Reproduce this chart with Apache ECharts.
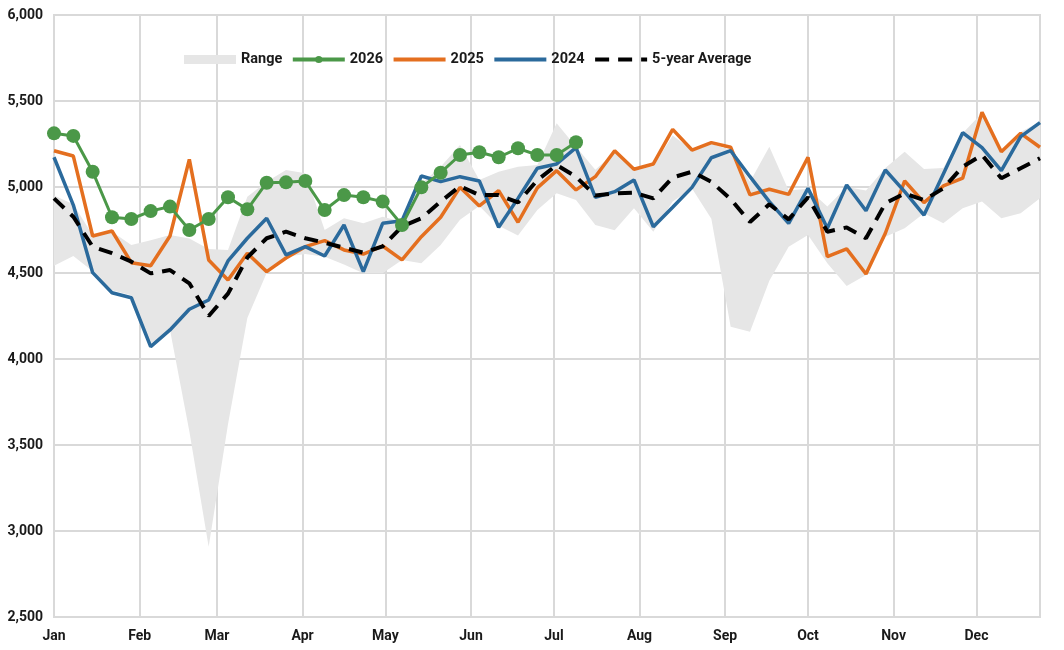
<!DOCTYPE html>
<html>
<head>
<meta charset="utf-8">
<script src="https://cdn.jsdelivr.net/npm/echarts@6/dist/echarts.min.js"></script>
<style>
  html, body { margin: 0; padding: 0; background: #fff; }
  #chart { width: 1064px; height: 650px; }
</style>
</head>
<body>
<div id="chart"></div>
<script>
// month labels and the day of year where each one starts
const months = ['Jan', 'Feb', 'Mar', 'Apr', 'May', 'Jun', 'Jul', 'Aug', 'Sep', 'Oct', 'Nov', 'Dec']
const monthDays = [0, 31, 59, 90, 120, 151, 181, 212, 243, 273, 304, 334]

// weekly values (52 weeks)
const rangeLow = [4542, 4599, 4510, 4400, 4370, 4090, 4169, 3580, 2909, 3620, 4238, 4500, 4595, 4610, 4595, 4550,
  4498, 4498, 4576, 4556, 4663, 4810, 4890, 4775, 4718, 4866, 4963, 4924, 4779, 4748, 4876, 4740, 4915, 4992,
  4815, 4188, 4159, 4455, 4653, 4721, 4556, 4425, 4488, 4711, 4760, 4847, 4789, 4876, 4915, 4818, 4847, 4934]
const rangeHigh = [4950, 4900, 4720, 4740, 4663, 4690, 4721, 4700, 4640, 4634, 4944, 5030, 5099, 5080, 4750, 4818,
  4789, 4827, 4798, 5020, 5118, 5244, 5041, 5089, 5118, 5128, 5370, 5234, 5100, 5200, 5100, 5120, 5300, 5215,
  5250, 5215, 5030, 5234, 4980, 4990, 4886, 5000, 4980, 5110, 5205, 5105, 5110, 5312, 5430, 5205, 5320, 5380]
const y2026 = [5312, 5297, 5089, 4824, 4814, 4860, 4886, 4750, 4814, 4940, 4870, 5025, 5027, 5035, 4866, 4953,
  4940, 4915, 4779, 4998, 5083, 5186, 5202, 5173, 5225, 5186, 5186, 5260]
const y2025 = [5211, 5180, 4715, 4744, 4560, 4542, 4715, 5161, 4576, 4459, 4615, 4508, 4587, 4653, 4688, 4634,
  4610, 4657, 4576, 4711, 4824, 4998, 4890, 4979, 4795, 4995, 5095, 4983, 5060, 5211, 5103, 5134, 5335, 5215,
  5258, 5231, 4954, 4987, 4957, 5173, 4595, 4640, 4494, 4731, 5035, 4909, 5006, 5051, 5434, 5205, 5312, 5231]
const y2024 = [5173, 4895, 4502, 4385, 4356, 4072, 4169, 4289, 4343, 4570, 4702, 4818, 4605, 4653, 4599, 4779,
  4508, 4789, 4804, 5064, 5031, 5060, 5035, 4766, 4934, 5109, 5134, 5229, 4940, 4973, 5041, 4769, 4882, 4998,
  5170, 5211, 5060, 4915, 4789, 4992, 4760, 5012, 4862, 5099, 4973, 4837, 5076, 5316, 5229, 5095, 5293, 5374]
const avg5 = [4934, 4827, 4653, 4615, 4566, 4498, 4517, 4440, 4250, 4380, 4590, 4702, 4740, 4702, 4676, 4647,
  4618, 4655, 4770, 4818, 4915, 5005, 4953, 4953, 4910, 5040, 5128, 5060, 4950, 4963, 4967, 4934, 5055, 5089,
  5030, 4930, 4796, 4900, 4812, 4940, 4740, 4765, 4702, 4905, 4963, 4924, 4992, 5118, 5186, 5051, 5109, 5167]

// x is the day of year of each week
const weekly = (arr) => arr.map((v, i) => [i * 7, v])

const chart = echarts.init(document.querySelector('#chart'))
const font = { fontFamily: 'Roboto', fontWeight: 'bold', fontSize: 14, color: '#1a1a1a' }
const noDot = { opacity: 0 }

const option = {
  animation: false,
  grid: {
    left: 54, right: 24, top: 15, bottom: 33,
    show: true, borderColor: '#d9d9d9', borderWidth: 2
  },
  legend: {
    top: 47,
    left: 179,
    itemWidth: 52,
    itemHeight: 9,
    itemGap: 8.5,
    lineStyle: { width: 4 },
    textStyle: { ...font, fontSize: 14.5 },
    data: [
      { name: 'Range', icon: 'rect', itemStyle: { color: '#e6e6e6' } },
      '2026',
      { name: '2025', itemStyle: noDot },
      { name: '2024', itemStyle: noDot },
      { name: '5-year Average', itemStyle: noDot }
    ]
  },
  xAxis: {
    type: 'value',
    min: 0,
    max: 357,
    axisLine: { lineStyle: { color: '#d9d9d9', width: 2 } },
    axisTick: { show: false, customValues: monthDays },
    axisLabel: {
      ...font,
      margin: 12,
      customValues: monthDays,
      formatter: (v) => months[monthDays.indexOf(v)]
    },
    splitLine: { show: true, lineStyle: { color: '#d9d9d9', width: 2 } }
  },
  yAxis: {
    type: 'value',
    min: 2500,
    max: 6000,
    interval: 500,
    axisLine: { show: false },
    axisTick: { show: false },
    axisLabel: {
      ...font,
      margin: 11,
      formatter: (v) => v.toLocaleString('en-US')
    },
    splitLine: { lineStyle: { color: '#d9d9d9', width: 2 } }
  },
  series: [
    {
      // min/max band, drawn as one polygon through the axis scales
      name: 'Range',
      type: 'custom',
      color: '#e6e6e6',
      silent: true,
      data: rangeLow.map((v, i) => [i * 7, v, rangeHigh[i]]),
      encode: { x: 0, y: [1, 2] },
      renderItem: (params, api) => {
        if (params.dataIndex !== 0) return null
        const top = rangeHigh.map((v, i) => api.coord([i * 7, v]))
        const bottom = rangeLow.map((v, i) => api.coord([i * 7, v])).reverse()
        return {
          type: 'polygon',
          shape: { points: top.concat(bottom) },
          style: { fill: '#e6e6e6' }
        }
      }
    },
    {
      name: '2025',
      type: 'line',
      data: weekly(y2025),
      symbol: 'none',
      color: '#e46f1f',
      lineStyle: { width: 3.5 }
    },
    {
      name: '2024',
      type: 'line',
      data: weekly(y2024),
      symbol: 'none',
      color: '#2b6a9c',
      lineStyle: { width: 3.5 }
    },
    {
      name: '5-year Average',
      type: 'line',
      data: weekly(avg5),
      symbol: 'none',
      color: '#000',
      lineStyle: { width: 4, type: [14, 9] }
    },
    {
      name: '2026',
      type: 'line',
      data: weekly(y2026),
      symbol: 'circle',
      symbolSize: 14,
      color: '#4b9848',
      lineStyle: { width: 3 }
    }
  ]
}
chart.setOption(option)
</script>
</body>
</html>
